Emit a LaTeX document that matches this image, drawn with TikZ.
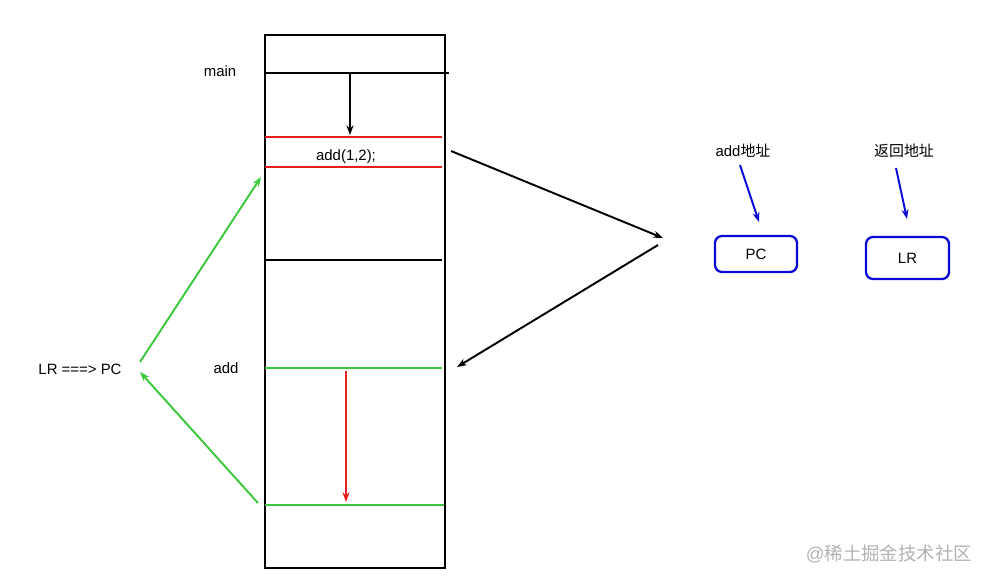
\documentclass[tikz,border=0pt]{standalone}
\usepackage{fontspec}
\setmainfont{Liberation Sans}
\newfontfamily\cjk{Noto Sans CJK SC}
\usetikzlibrary{arrows.meta}
\definecolor{frmgreen}{RGB}{60,200,60}
\definecolor{frmred}{RGB}{230,30,30}
\definecolor{regblue}{RGB}{10,10,215}

\begin{document}
\begin{tikzpicture}[
  x=0.02cm, y=-0.02cm,
  font=\fontsize{8.5}{10}\selectfont, >={Stealth[length=5.5pt,width=4pt]},
  stack/.style={line width=1.3pt},
  sep/.style={line width=1.2pt},
  jump/.style={->, line width=1.1pt},
  reg/.style={draw=regblue, line width=1.3pt, rounded corners=4pt, inner sep=0pt, align=center},
  lab/.style={inner sep=1pt}]
\useasboundingbox (0,0) rectangle (987,584);
% the stack
\draw[stack] (265,35) rectangle (445,568);
\draw[sep] (265,73) -- (449,73);
\draw[sep, frmred] (265,137) -- (442,137);
\draw[sep, frmred] (265,167) -- (442,167);
\draw[sep] (265,260) -- (442,260);
\draw[sep, frmgreen] (265,368) -- (442,368);
\draw[sep, frmgreen] (265,505) -- (444,505);
\node[lab] (main) at (220,71) {main};
\node[lab] (call) at (346,157) {add(1,2);};
\node[lab] (addf) at (226,368) {add};
\node[lab] (back) at (80,369) {LR ===> PC};
% points on the stack
\coordinate (mtop) at (350,74);
\coordinate (mcall) at (350,135);
\coordinate (atop) at (346,371);
\coordinate (aend) at (346,502);
\coordinate (bkout) at (140,362);
\coordinate (bkin) at (140,372);
\coordinate (cline) at (261,177);
\coordinate (eline) at (258,503);
\coordinate (cout) at (451,151);
\coordinate (tip) at (663,238);
\coordinate (tip2) at (658,245);
\coordinate (ain) at (457,367);
\draw[jump] (mtop) -- (mcall);
\draw[jump, frmred] (atop) -- (aend);
\draw[jump, frmgreen] (bkout) -- (cline);
\draw[jump, frmgreen] (eline) -- (bkin);
\draw[jump] (cout) -- (tip);
\draw[jump] (tip2) -- (ain);
% registers
\node[reg, minimum width=1.64cm, minimum height=0.72cm] (pc) at (756,254) {PC};
\node[reg, minimum width=1.66cm, minimum height=0.84cm] (lr) at (907.5,258) {LR};
\node[lab] (addr) at (743,151) {add{\cjk 地址}};
\node[lab] (ret) at (904,151) {\cjk 返回地址};
\coordinate (pcin) at (759,222);
\coordinate (lrin) at (907,219);
\draw[jump, regblue] (740,165) -- (pcin);
\draw[jump, regblue] (896,168) -- (lrin);
\node[text=black!30, font=\fontsize{10.5}{12}\selectfont] (wm) at (889,554) {@{\cjk 稀土掘金技术社区}};
\end{tikzpicture}
\end{document}
